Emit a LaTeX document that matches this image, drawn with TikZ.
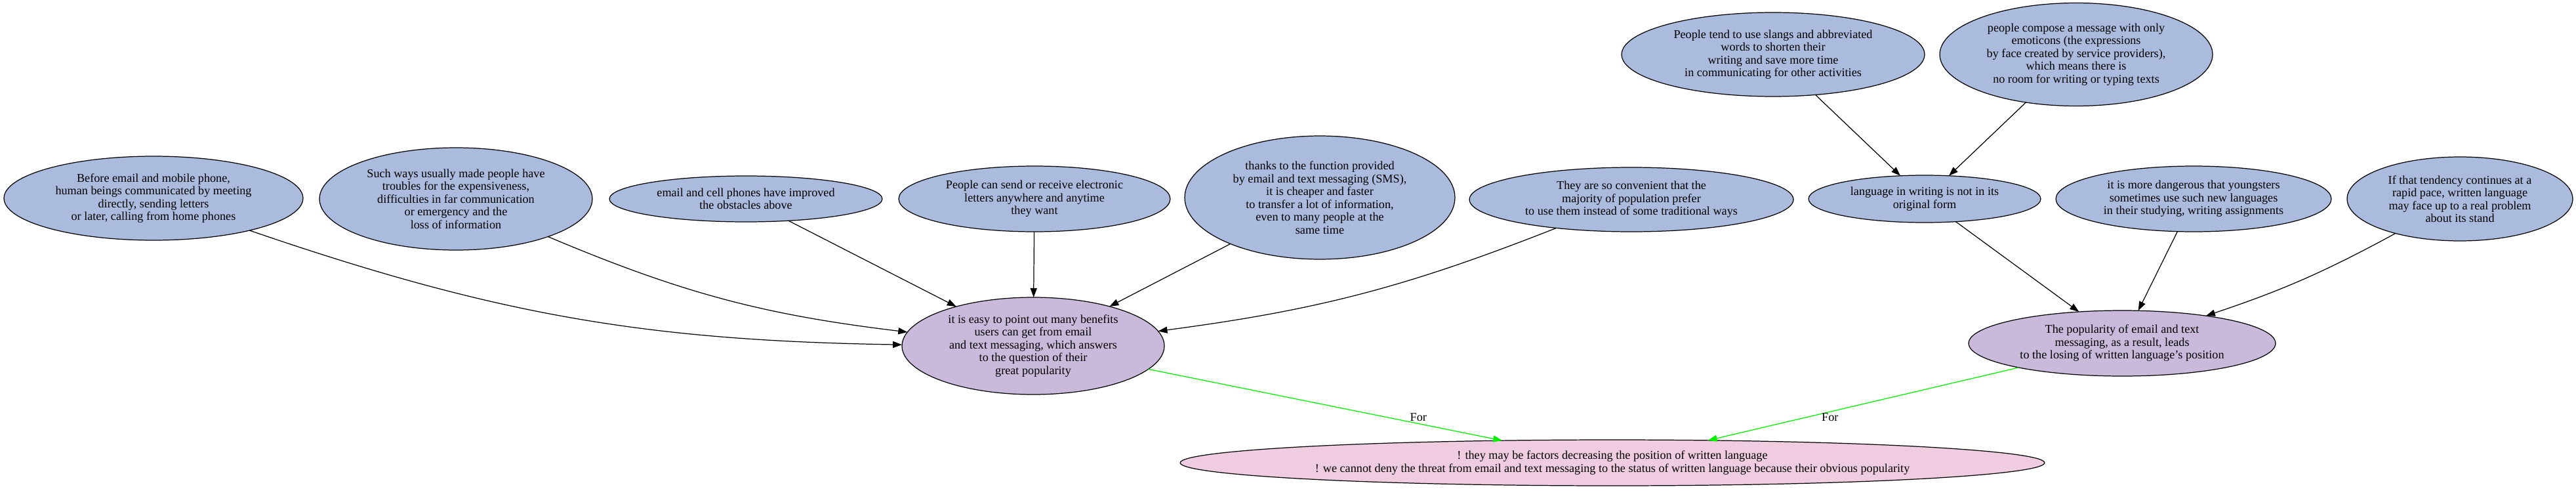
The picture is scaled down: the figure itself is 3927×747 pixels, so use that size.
\documentclass[tikz,border=0pt]{standalone}
\usepackage{fontspec}
\setmainfont{Liberation Serif}
\usetikzlibrary{positioning}
\usetikzlibrary{shapes.geometric}
\usetikzlibrary{arrows.meta}
\usepackage{xcolor}

\definecolor{premblue}{RGB}{170,187,221}
\definecolor{claimlilac}{RGB}{201,186,220}
\definecolor{thesispink}{RGB}{239,204,224}
\definecolor{forgreen}{RGB}{0,240,0}

\tikzset{
argbox/.style={ellipse, draw=black, line width=0.7pt, align=center, inner sep=0pt, outer sep=0pt, font=\fontsize{10.35}{11.1}\selectfont},
premise/.style={argbox, fill=premblue},
claim/.style={argbox, fill=claimlilac},
thesis/.style={argbox, fill=thesispink},
supports/.style={-{Triangle[length=0.28cm,width=0.2cm]}, line width=0.7pt},
forlink/.style={supports, color=forgreen},
forlabel/.style={text=black, inner sep=0pt, font=\fontsize{10.35}{11.1}\selectfont}
}

\begin{document}
\begin{tikzpicture}[x=0.02cm, y=-0.02cm]
\useasboundingbox (0,0) rectangle (3927,747);

% premises, top rows
{
\node[premise, minimum width=9.12cm, minimum height=2.56cm] (before) at (234,302)
{Before email and mobile phone,\\ human beings communicated by meeting\\ directly, sending letters\\ or later, calling from home phones};

\node[premise, minimum width=8.32cm, minimum height=3.12cm] (troubles) at (695,303)
{Such ways usually made people have\\ troubles for the expensiveness,\\ difficulties in far communication\\ or emergency and the\\ loss of information};

\node[premise, minimum width=8.32cm, minimum height=1.4cm] (improved) at (1137,303)
{email and cell phones have improved\\ the obstacles above};

\node[premise, minimum width=8.28cm, minimum height=2cm] (anywhere) at (1577,303)
{People can send or receive electronic\\ letters anywhere and anytime\\ they want};

\node[premise, minimum width=8.24cm, minimum height=3.76cm] (cheaper) at (2012,301)
{thanks to the function provided\\ by email and text messaging (SMS),\\ it is cheaper and faster\\ to transfer a lot of information,\\ even to many people at the\\ same time};

\node[premise, minimum width=9.88cm, minimum height=1.96cm] (convenient) at (2487,304)
{They are so convenient that the\\ majority of population prefer\\ to use them instead of some traditional ways};

\node[premise, minimum width=9.24cm, minimum height=2.56cm] (slangs) at (2703,83)
{People tend to use slangs and abbreviated\\ words to shorten their\\ writing and save more time\\ in communicating for other activities};

\node[premise, minimum width=8.32cm, minimum height=3.14cm] (emoticons) at (3165,83)
{people compose a message with only\\ emoticons (the expressions\\ by face created by service providers),\\ which means there is\\ no room for writing or typing texts};

\node[premise, minimum width=7.08cm, minimum height=1.44cm] (original) at (2934,303)
{language in writing is not in its\\ original form};

\node[premise, minimum width=8.4cm, minimum height=2cm] (youngsters) at (3344,303)
{it is more dangerous that youngsters\\ sometimes use such new languages\\ in their studying, writing assignments};

\node[premise, minimum width=6.88cm, minimum height=2.56cm] (tendency) at (3750,303)
{If that tendency continues at a\\ rapid pace, written language\\ may face up to a real problem\\ about its stand};
}

% claims and thesis
{
\node[claim, minimum width=8cm, minimum height=2.96cm] (benefits) at (1575,527)
{it is easy to point out many benefits\\ users can get from email\\ and text messaging, which answers\\ to the question of their\\ great popularity};

\node[claim, minimum width=9.36cm, minimum height=2cm] (losing) at (3235,523)
{The popularity of email and text\\ messaging, as a result, leads\\ to the losing of written language's position};

\node[thesis, minimum width=26.36cm, minimum height=1.4cm] (threat) at (2458,705)
{! they may be factors decreasing the position of written language\\ ! we cannot deny the threat from email and text messaging to the status of written language because their obvious popularity};
}

% arrows
\draw[supports] (before) to[bend right=9] (benefits);
\draw[supports] (troubles) to[bend right=8] (benefits);
\draw[supports] (improved) -- (benefits);
\draw[supports] (anywhere) -- (benefits);
\draw[supports] (cheaper) -- (benefits);
\draw[supports] (convenient) to[bend left=7] (benefits);

\draw[supports] (slangs) -- (original);
\draw[supports] (emoticons) -- (original);
\draw[supports] (original) -- (losing);
\draw[supports] (youngsters) -- (losing);
\draw[supports] (tendency) to[bend left=5] (losing);

\draw[forlink] (benefits) -- node[forlabel, pos=0.763, yshift=0.2cm] {For} (threat);
\draw[forlink] (losing) -- node[forlabel, pos=0.607, yshift=-0.16cm] {For} (threat);

\end{tikzpicture}
\end{document}
